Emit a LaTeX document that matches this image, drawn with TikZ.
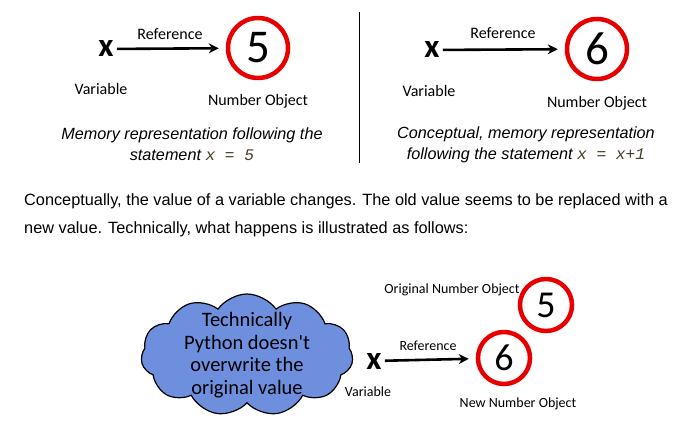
\documentclass[tikz,border=0pt]{standalone}
\usepackage{fontspec}
\setmainfont{Liberation Sans}
\newfontfamily\labelfont{Carlito}
\newfontfamily\codefont{Liberation Mono}
\usetikzlibrary{shapes.symbols, arrows.meta, positioning}
\definecolor{objred}{RGB}{232,0,0}
\definecolor{cloudblue}{RGB}{110,142,222}
\definecolor{codegray}{RGB}{70,60,40}
\tikzset{
  varnode/.style={font=\labelfont\bfseries\fontsize{33}{33}\selectfont, inner sep=0pt},
  objnode/.style={circle, draw=objred, line width=4.5pt, minimum size=60pt,
    inner sep=0pt, font=\labelfont\fontsize{47}{47}\selectfont},
  smallobj/.style={objnode, minimum size=52pt, font=\labelfont\fontsize{38}{38}\selectfont},
  lbl/.style={font=\labelfont\fontsize{16}{16}\selectfont, inner sep=0pt},
  smalllbl/.style={font=\labelfont\fontsize{14}{14}\selectfont, inner sep=0pt},
  caption/.style={font=\itshape\fontsize{16.2}{21}\selectfont, align=center, inner sep=0pt},
  arrow/.style={-{Stealth[length=10pt, width=10pt]}, line width=2.6pt,
    shorten >=7pt, shorten <=3pt},
  thought/.style={cloud, cloud puffs=11, cloud puff arc=110, cloud ignores aspect,
    draw=black, fill=cloudblue, line width=1.2pt, inner sep=0pt,
    minimum width=212pt, minimum height=122pt},
  thoughttext/.style={align=center, inner sep=0pt,
    font=\labelfont\fontsize{20.5}{22.7}\selectfont}
}
\newcommand{\code}[1]{{\codefont\itshape\color{codegray}#1}}

\begin{document}
\begin{tikzpicture}[x=1pt, y=-1pt]
  \useasboundingbox (0,0) rectangle (693,435);

  % before the statement
  \node[varnode] (var1) at (106,49) {x};
  \node[objnode] (num1) at (258,48) {5};
  \draw[arrow] (var1) -- (num1);
  \node[lbl] (ref1) at (170,34) {Reference};
  \node[lbl] (vlbl1) at (101,89) {Variable};
  \node[lbl] (olbl1) at (258,101) {Number Object};
  \node[caption] (cap1) at (192,144)
    {Memory representation following the\\statement \code{x = 5}};

  \draw[line width=1pt] (359,12) -- (359,163);

  % after the statement
  \node[varnode] (var2) at (432,50) {x};
  \node[objnode] (num2) at (597,49) {6};
  \draw[arrow] (var2) -- (num2);
  \node[lbl] (ref2) at (503,33) {Reference};
  \node[lbl] (vlbl2) at (429,91) {Variable};
  \node[lbl] (olbl2) at (597,103) {Number Object};
  \node[caption] (cap2) at (526,145)
    {Conceptual, memory representation\\following the statement \code{x = x+1}};

  \node[anchor=west, align=left, inner sep=0pt,
    font=\fontsize{16.3}{28}\selectfont] (para) at (24,215)
    {Conceptually, the value of a variable changes. The old value seems to be replaced with a\\
     new value. Technically, what happens is illustrated as follows:};

  % what really happens
  \node[thought] (cloud) at (247,355) {};
  \node[thoughttext] (note) at (cloud.center)
    {Technically\\Python doesn't\\overwrite the\\original value};
  \node[varnode] (var3) at (374,361) {x};
  \node[smallobj] (num3) at (504,358) {6};
  \node[smallobj] (num4) at (546,305) {5};
  \draw[arrow] (var3) -- (num3);
  \node[smalllbl] (ref3) at (428,346) {Reference};
  \node[smalllbl] (vlbl3) at (368,392) {Variable};
  \node[smalllbl] (olbl3) at (518,404) {New Number Object};
  \node[smalllbl] (olbl4) at (452,290) {Original Number Object};
\end{tikzpicture}
\end{document}
